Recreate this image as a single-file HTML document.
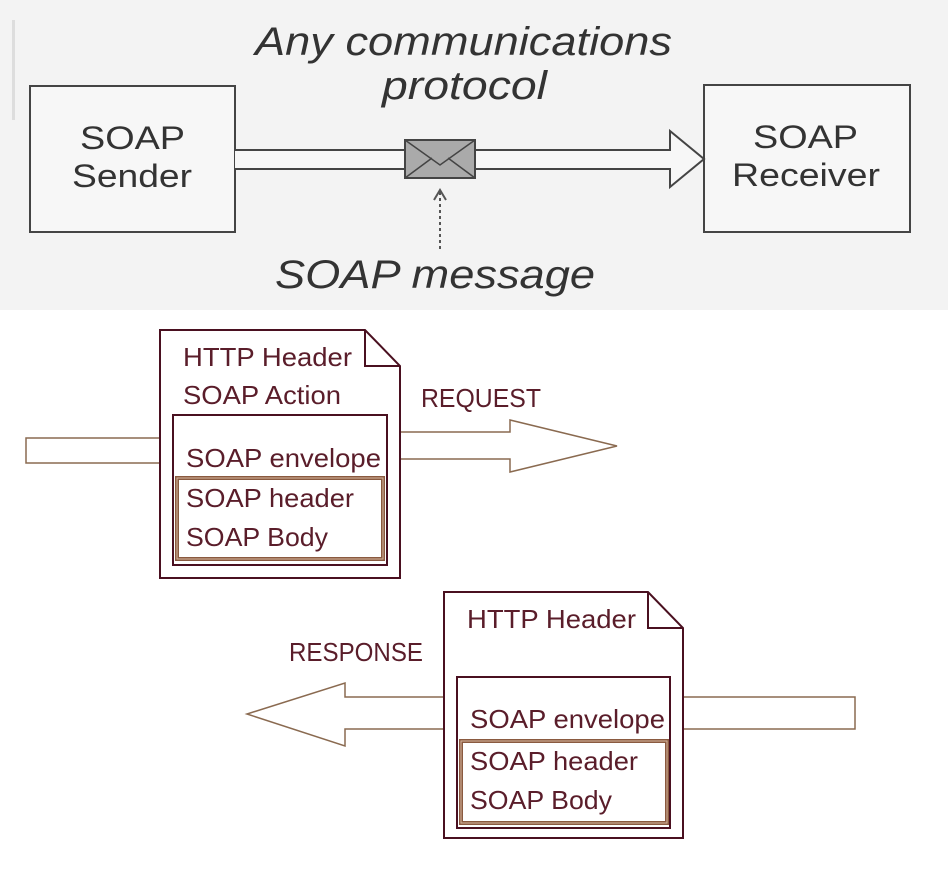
<!DOCTYPE html>
<html><head><meta charset="utf-8"><style>
body{margin:0;background:#fff;}
svg{display:block}
.t{font-family:"Liberation Sans",sans-serif;fill:#5a1d2a;font-size:26px}
.g{font-family:"Liberation Sans",sans-serif;fill:#333;}
</style></head><body>
<svg width="948" height="876" viewBox="0 0 948 876">
<rect x="0" y="0" width="948" height="310" fill="#f3f3f3"/>
<rect x="12" y="20" width="3" height="100" fill="#ddd"/>
<text class="g" x="255" y="55" font-size="40" font-style="italic" textLength="417" lengthAdjust="spacingAndGlyphs">Any communications</text>
<text class="g" x="382" y="99" font-size="40" font-style="italic" textLength="165" lengthAdjust="spacingAndGlyphs">protocol</text>
<rect x="30" y="86" width="205" height="146" fill="#f7f7f7" stroke="#444" stroke-width="2"/>
<text class="g" x="80" y="149" font-size="32" textLength="105" lengthAdjust="spacingAndGlyphs">SOAP</text>
<text class="g" x="72" y="187" font-size="32" textLength="120" lengthAdjust="spacingAndGlyphs">Sender</text>
<rect x="704" y="85" width="206" height="147" fill="#f7f7f7" stroke="#444" stroke-width="2"/>
<text class="g" x="753" y="148" font-size="32" textLength="105" lengthAdjust="spacingAndGlyphs">SOAP</text>
<text class="g" x="732" y="186" font-size="32" textLength="148" lengthAdjust="spacingAndGlyphs">Receiver</text>
<path d="M235 150 L670 150 L670 131 L704 159 L670 187 L670 169 L235 169" fill="#f7f7f7" stroke="#444" stroke-width="2"/>
<rect x="405" y="140" width="70" height="38" fill="#aaa" stroke="#444" stroke-width="2"/>
<path d="M405 140 L440 165 L475 140 M405 178 L432 158 M475 178 L448 158" fill="none" stroke="#444" stroke-width="1.5"/>
<line x1="440" y1="192" x2="440" y2="250" stroke="#555" stroke-width="2" stroke-dasharray="3,3"/>
<path d="M434 200 L440 190 L446 200" fill="none" stroke="#555" stroke-width="2"/>
<text class="g" x="275" y="288" font-size="40" font-style="italic" textLength="320" lengthAdjust="spacingAndGlyphs">SOAP message</text>

<rect x="26" y="438" width="134" height="25" fill="#fff" stroke="#8a6a50" stroke-width="1.5"/>
<path d="M400 432 L510 432 L510 420 L617 446 L510 472 L510 459 L400 459" fill="#fff" stroke="#8a6a50" stroke-width="1.5"/>
<path d="M160 330 L365 330 L400 366 L400 578 L160 578 Z" fill="#fff" stroke="#4a1020" stroke-width="2"/>
<path d="M365 330 L365 366 L400 366" fill="none" stroke="#4a1020" stroke-width="2"/>
<rect x="173" y="415" width="214" height="150" fill="#fff" stroke="#4a1020" stroke-width="2"/>
<rect x="177" y="478" width="206" height="81" fill="none" stroke="#8a5a40" stroke-width="4"/>
<rect x="177" y="478" width="206" height="81" fill="none" stroke="#d8b8a0" stroke-width="1"/>
<text class="t" x="183" y="366" textLength="169" lengthAdjust="spacingAndGlyphs">HTTP Header</text>
<text class="t" x="183" y="404" textLength="158" lengthAdjust="spacingAndGlyphs">SOAP Action</text>
<text class="t" x="186" y="467" textLength="195" lengthAdjust="spacingAndGlyphs">SOAP envelope</text>
<text class="t" x="186" y="507" textLength="168" lengthAdjust="spacingAndGlyphs">SOAP header</text>
<text class="t" x="186" y="546" textLength="142" lengthAdjust="spacingAndGlyphs">SOAP Body</text>
<text class="t" x="421" y="407" textLength="120" lengthAdjust="spacingAndGlyphs">REQUEST</text>

<rect x="683" y="697" width="172" height="32" fill="#fff" stroke="#8a6a50" stroke-width="1.5"/>
<path d="M444 697 L345 697 L345 683 L247 714 L345 746 L345 729 L444 729" fill="#fff" stroke="#8a6a50" stroke-width="1.5"/>
<path d="M444 592 L648 592 L683 628 L683 838 L444 838 Z" fill="#fff" stroke="#4a1020" stroke-width="2"/>
<path d="M648 592 L648 628 L683 628" fill="none" stroke="#4a1020" stroke-width="2"/>
<rect x="457" y="677" width="213" height="151" fill="#fff" stroke="#4a1020" stroke-width="2"/>
<rect x="461" y="741" width="206" height="82" fill="none" stroke="#8a5a40" stroke-width="4"/>
<rect x="461" y="741" width="206" height="82" fill="none" stroke="#d8b8a0" stroke-width="1"/>
<text class="t" x="467" y="628" textLength="169" lengthAdjust="spacingAndGlyphs">HTTP Header</text>
<text class="t" x="470" y="728" textLength="195" lengthAdjust="spacingAndGlyphs">SOAP envelope</text>
<text class="t" x="470" y="770" textLength="168" lengthAdjust="spacingAndGlyphs">SOAP header</text>
<text class="t" x="470" y="809" textLength="142" lengthAdjust="spacingAndGlyphs">SOAP Body</text>
<text class="t" x="289" y="661" textLength="134" lengthAdjust="spacingAndGlyphs">RESPONSE</text>
</svg>
</body></html>
